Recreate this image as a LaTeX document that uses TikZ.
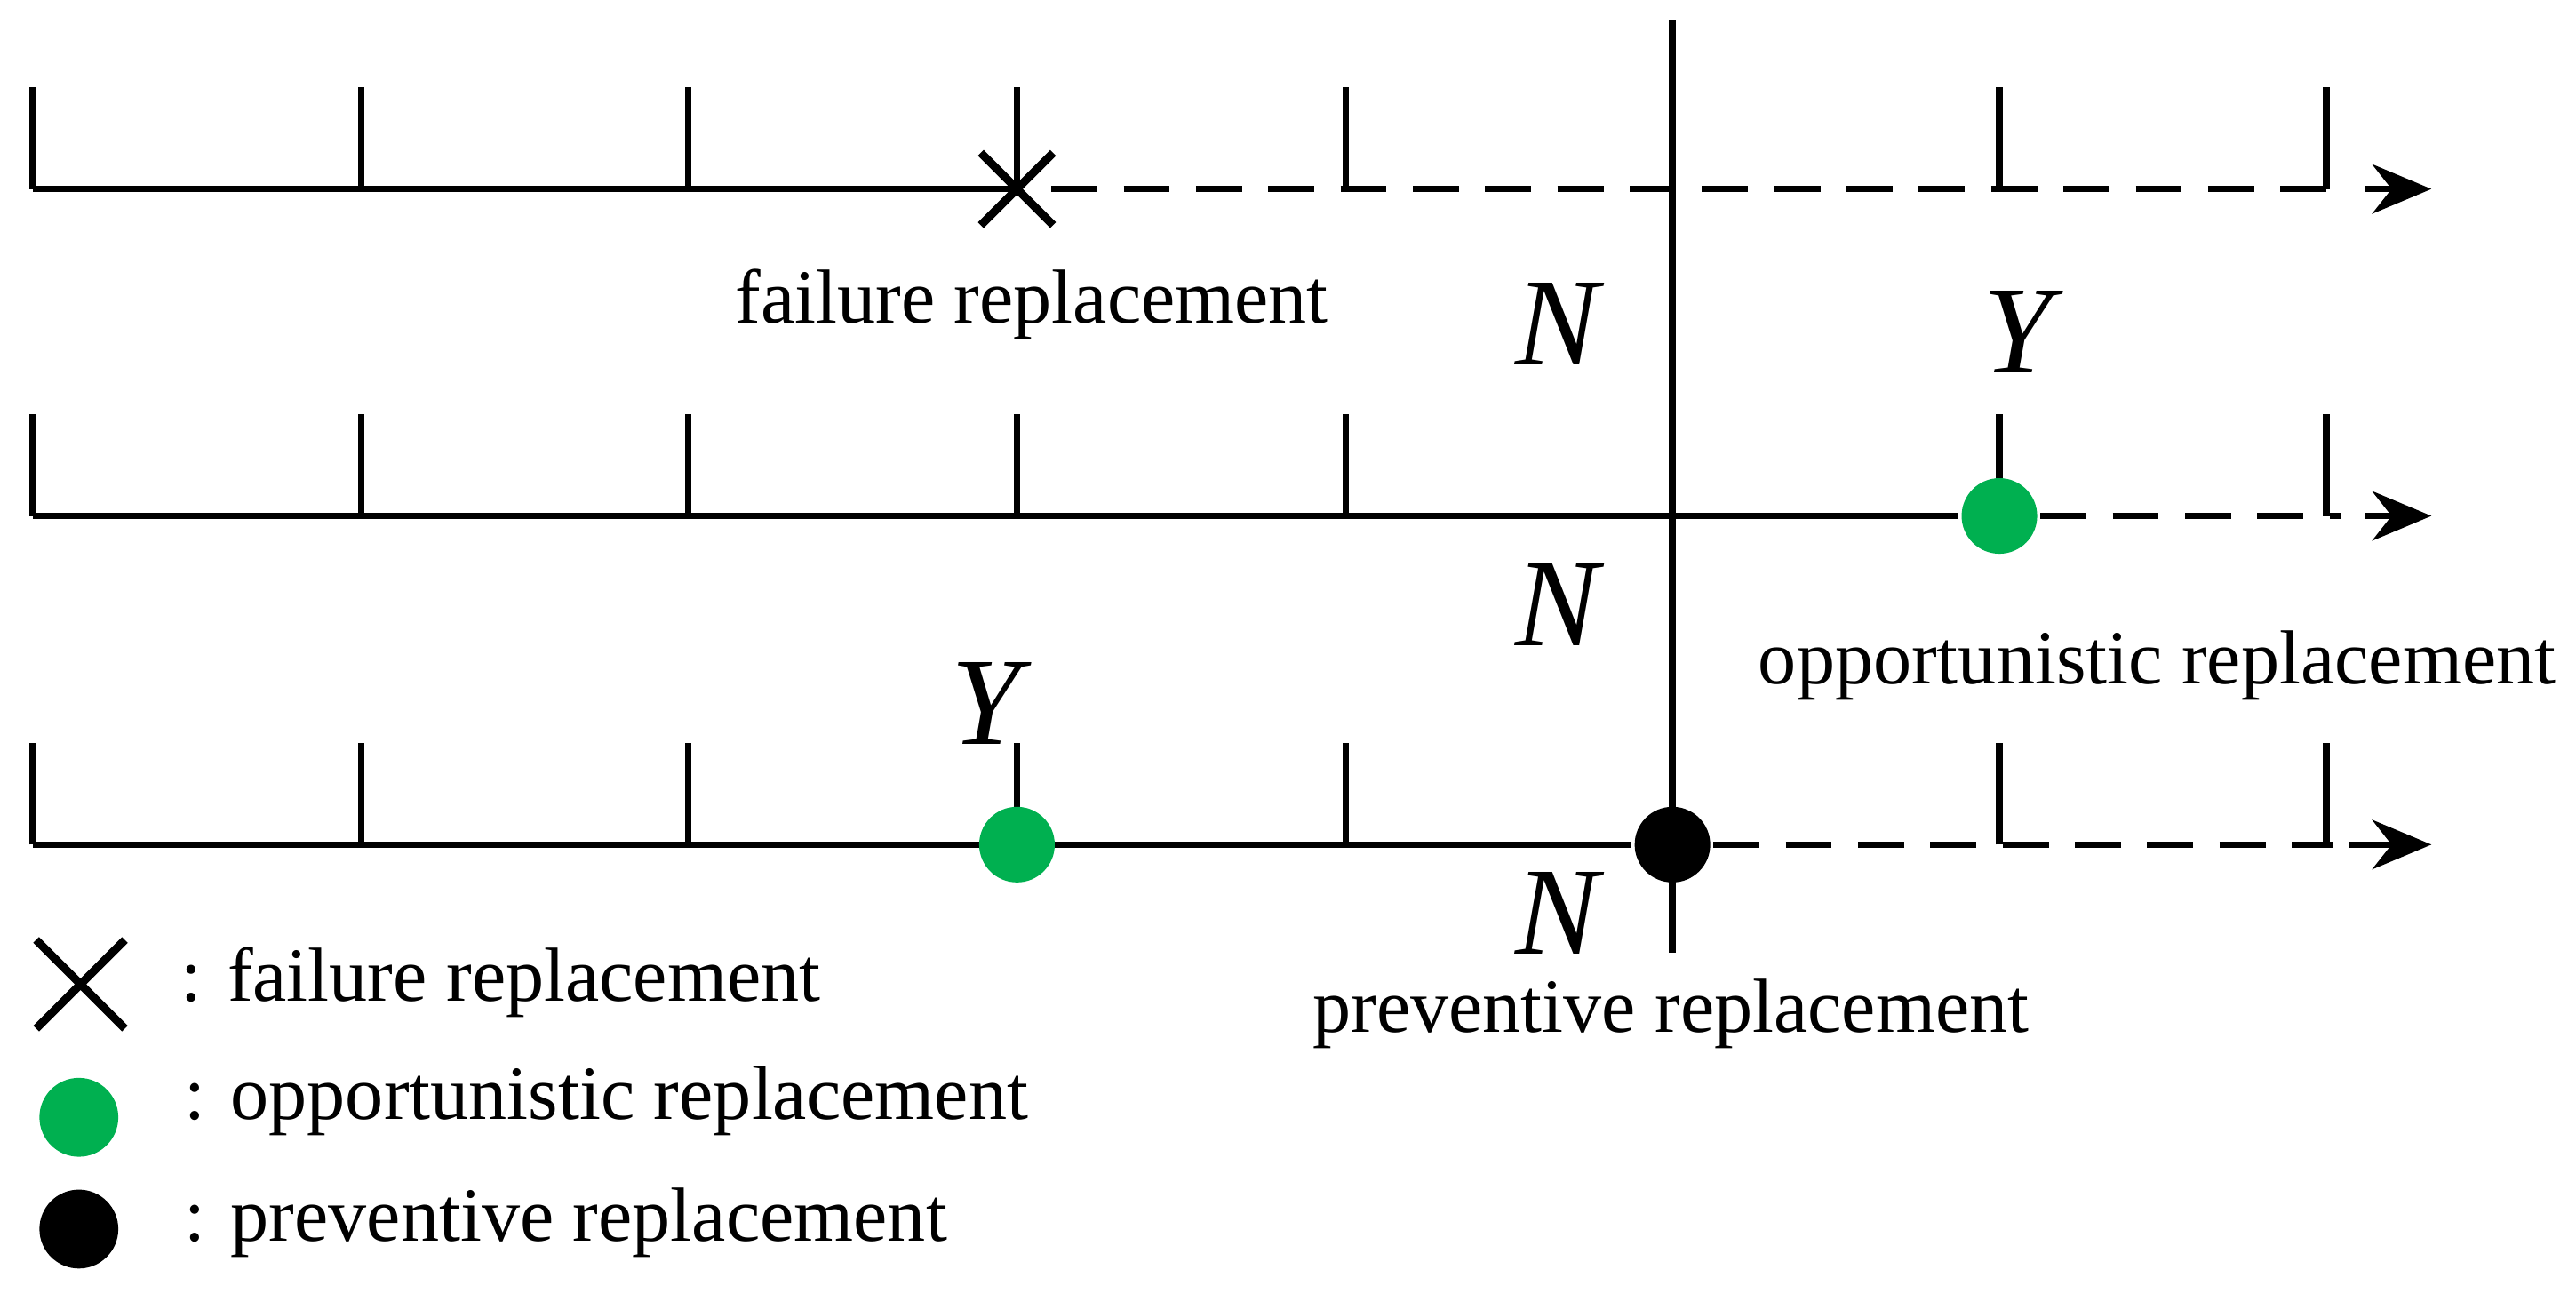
\documentclass[tikz,border=0pt]{standalone}
\usepackage{fontspec}
\setmainfont{Liberation Serif}
\usetikzlibrary{arrows.meta}
\begin{document}
\begin{tikzpicture}[x=0.5pt,y=-0.5pt,line width=2pt,
  lbl/.style={font=\fontsize{23.3}{26}\selectfont, inner sep=0},
  big/.style={font=\fontsize{38}{40}\selectfont\itshape, inner sep=0},
  dsh/.style={dash pattern=on 14pt off 8pt},
  arr/.style={-{Stealth[length=18pt,width=15pt]}},
  gdot/.style={circle,fill=ogreen,minimum size=23pt,inner sep=0},
  bdot/.style={circle,fill=black,minimum size=23pt,inner sep=0}]
\definecolor{ogreen}{RGB}{0,176,80}
\useasboundingbox (0,0) rectangle (1568,787);
% ticks
\foreach \r/\y in {1/115,2/314,3/514}{
  \foreach \x in {20,220,419,619,819,1217,1416}{
    \draw (\x,\y) -- (\x,\y-62);
  }
  \coordinate (e\r) at (1480,\y);
}
% row 1
\coordinate (a1) at (20,115);
\coordinate (x1) at (619,115);
\coordinate (d1) at (640,115);
\draw (a1) -- (x1);
\draw[dsh] (d1) -- (1425,115);
\draw[arr] (1440,115) -- (e1);
\draw[line width=2.5pt] (597,93) -- (641,137) (597,137) -- (641,93);
% row 2
\coordinate (a2) at (20,314);
\node[gdot] (g2) at (1217,314) {};
\draw (a2) -- (g2);
\draw[dsh] (g2.east) -- (1425,314);
\draw[arr] (1440,314) -- (e2);
% row 3
\coordinate (a3) at (20,514);
\node[bdot] (b3) at (1018,514) {};
\draw (a3) -- (b3);
\node[gdot] (g3) at (619,514) {};
\draw[dsh] (b3.east) -- (1420,514);
\draw[arr] (1430,514) -- (e3);
% vertical
\coordinate (vt) at (1018,12);
\coordinate (vb) at (1018,580);
\draw (vt) -- (vb);
% labels
\node[lbl] (t1) at (628,185) {failure replacement};
\node[big] (n1) at (948,197) {N};
\node[big] (y1) at (1228,202) {Y};
\node[big] (n2) at (948,368) {N};
\node[lbl] (t2) at (1313,405) {opportunistic replacement};
\node[big] (y2) at (600,428) {Y};
\node[big] (n3) at (948,556) {N};
\node[lbl] (t3) at (1017,617) {preventive replacement};
% legend
\draw[line width=2.5pt] (22,572) -- (76,626) (22,626) -- (76,572);
\node[lbl,anchor=west] (l1) at (108,598) {: failure replacement};
\node[gdot,minimum size=24pt] (lg) at (48,680) {};
\node[lbl,anchor=west] (l2) at (110,670) {: opportunistic replacement};
\node[bdot,minimum size=24pt] (lb) at (48,748) {};
\node[lbl,anchor=west] (l3) at (110,744) {: preventive replacement};
\end{tikzpicture}
\end{document}
